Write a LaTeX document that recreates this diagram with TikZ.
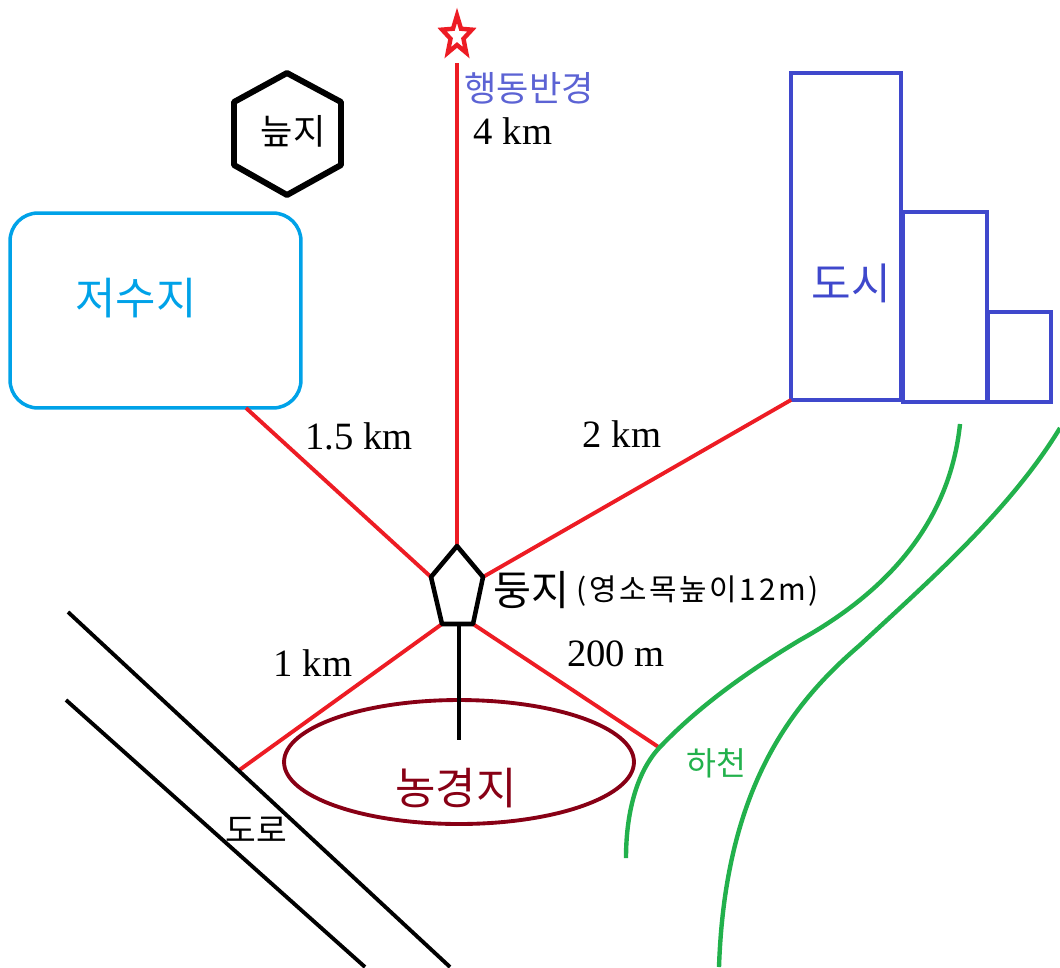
\documentclass[tikz,border=0pt]{standalone}
\usepackage{fontspec}
\setmainfont{Liberation Serif}
\newfontfamily\cjk{Noto Sans CJK KR}
\newfontfamily\cjkwide[LetterSpace=9]{Noto Sans CJK KR}
\usetikzlibrary{positioning,shapes.geometric}
\definecolor{redline}{HTML}{ED1C24}
\definecolor{cityblue}{HTML}{3F48CC}
\definecolor{lakeblue}{HTML}{00A2E8}
\definecolor{rivergreen}{HTML}{22B14C}
\definecolor{farmred}{HTML}{880015}
\tikzset{
    dist/.style={draw=redline,line width=2.2pt},
    distlabel/.style={font=\fontsize{22}{22}\selectfont,inner sep=0pt},
    citybox/.style={draw=cityblue,line width=2.2pt,inner sep=0pt,outer sep=0pt},
    river/.style={draw=rivergreen,line width=2.5pt},
    road/.style={draw=black,line width=2.2pt},
    korean/.style={font=\cjk\fontsize{#1}{#1}\selectfont,inner sep=0pt}
}
\begin{document}
\begin{tikzpicture}[x=0.02cm,y=-0.02cm]
    \useasboundingbox (0,0) rectangle (1060,967);
    % corners of the nest
    \coordinate (nesttop) at (457,546);
    \coordinate (nestleft) at (431,577);
    \coordinate (nestright) at (483,577);
    \coordinate (nestbl) at (442,624);
    \coordinate (nestbr) at (473,624);
    \coordinate (nestfoot) at (459,624);
    % places
    \node[star,star points=5,star point ratio=2.3,draw=redline,line width=2.5pt,fill=white,minimum size=0.66cm,inner sep=0pt,xscale=.95,yscale=1.25,transform shape] (goal) at (457,36) {};
    \coordinate (goalfoot) at (457,63);
    \node[rectangle,rounded corners=0.56cm,draw=lakeblue,line width=2pt,minimum width=5.82cm,minimum height=3.9cm,inner sep=0pt,outer sep=0pt] (lake) at (155.5,310.5) {};
    \coordinate (lakefoot) at (246,408);
    \node[citybox,minimum width=2.2cm,minimum height=6.54cm] (tower) at (846,236.5) {};
    \node[citybox,minimum width=1.68cm,minimum height=3.8cm] (midblock) at (945,307) {};
    \node[citybox,minimum width=1.26cm,minimum height=1.8cm] (lowblock) at (1019.5,357) {};
    \node[ellipse,draw=farmred,line width=2.2pt,minimum width=7cm,minimum height=2.48cm,inner sep=0pt,outer sep=0pt] (farm) at (459,762) {};
    \coordinate (farmend) at (459,740);
    \coordinate (roadpoint) at (238,771);
    \coordinate (riverpoint) at (660,748);
    % distances
    \draw[dist] (goalfoot) -- (nesttop);
    \draw[dist] (lakefoot) -- (nestleft);
    \draw[dist] (tower.south west) -- (nestright);
    \draw[dist] (roadpoint) -- (nestbl);
    \draw[dist] (riverpoint) -- (nestbr);
    % nest and its trunk
    \draw[line width=2.6pt,line join=round,draw=black] (nesttop) -- (nestright) -- (nestbr) -- (nestbl) -- (nestleft) -- cycle;
    \draw[line width=2.6pt] (nestfoot) -- (farmend);
    % marsh
    \coordinate (m1) at (287,73);
    \coordinate (m2) at (341,102);
    \coordinate (m3) at (341,165);
    \coordinate (m4) at (287,195);
    \coordinate (m5) at (234,165);
    \coordinate (m6) at (234,102);
    \draw[line width=3.4pt,line join=round] (m1) -- (m2) -- (m3) -- (m4) -- (m5) -- (m6) -- cycle;
    % road
    \coordinate (r1a) at (68,612);
    \coordinate (r1b) at (450,967);
    \coordinate (r2a) at (66,700);
    \coordinate (r2b) at (365,967);
    \draw[road] (r1a) -- (r1b);
    \draw[road] (r2a) -- (r2b);
    % rivers
    \draw[river] (960,424) .. controls (950,520) and (890,590) .. (800,640)
        .. controls (750,670) and (700,705) .. (660,747)
        .. controls (638,770) and (626,810) .. (626,858);
    \draw[river] (1060,428) .. controls (1010,510) and (930,580) .. (860,645)
        .. controls (790,705) and (725,790) .. (719,967);
    % labels
    \node[korean=20,text=cityblue!85!white] (radius) at (529,88) {행동반경};
    \node[distlabel] (d4) at (513,131) {4 km};
    \node[korean=20] (marsh) at (293,131) {늪지};
    \node[korean=25,text=lakeblue] (lakename) at (136,298) {저수지};
    \node[korean=24.5,text=cityblue] (cityname) at (851,283) {도시};
    \node[distlabel] (d15) at (359,436) {1.5 km};
    \node[distlabel] (d2) at (622,434) {2 km};
    \node[distlabel] (d1) at (313,663) {1 km};
    \node[distlabel] (d200) at (616,654) {200 m};
    \node[korean=23.5] (nest) at (531,590) {둥지};
    \node[font=\cjkwide\fontsize{17}{17}\selectfont,inner sep=0pt] (nestnote) at (697.5,591) {(영소목높이12m)};
    \node[korean=18.5,text=rivergreen] (rivername) at (716,763) {하천};
    \node[korean=25,text=farmred] (farmname) at (456,788) {농경지};
    \node[korean=19] (roadname) at (256,830) {도로};
\end{tikzpicture}
\end{document}
